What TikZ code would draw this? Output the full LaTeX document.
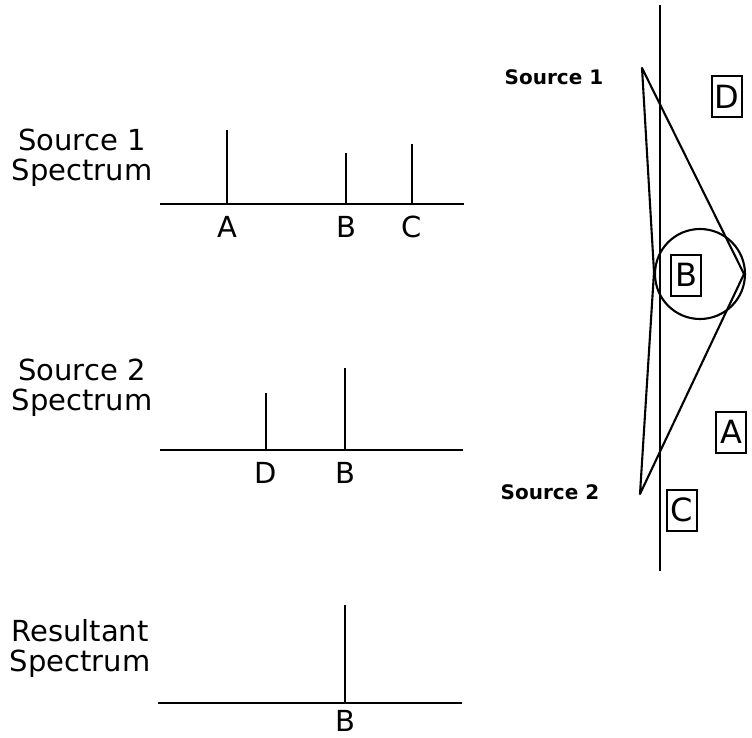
\documentclass[tikz,border=0pt]{standalone}
\usepackage{fontspec}
\setmainfont{DejaVu Sans}
\usetikzlibrary{positioning}
\tikzset{
  % plotter strokes
  axis/.style   = {line width=2.3pt, black},
  spk/.style    = {line width=2.3pt, black},
  ray/.style    = {line width=2.1pt, black},
  lbl/.style    = {font=\fontsize{29}{30}\selectfont, inner sep=0pt},
  ttl/.style    = {font=\fontsize{29}{30}\selectfont, align=center, inner sep=0pt},
  srclbl/.style = {font=\bfseries\fontsize{20}{24}\selectfont, inner sep=0pt},
  imgbox/.style = {draw, line width=2pt, font=\fontsize{32}{34}\selectfont,
                   minimum width=30pt, minimum height=41pt, inner sep=0pt},
}
\begin{document}
\begin{tikzpicture}[x=1pt,y=-1pt]
\useasboundingbox (0,0) rectangle (752,738);
% source 1 spectrum
\node[ttl] (t1) at (82,158) {Source 1\\Spectrum};
\draw[axis] (160,204) coordinate (a1l) -- (464,204) coordinate (a1r);
\foreach \n/\x/\h in {A/227/130, B/346/153, C/412/144}{
  \coordinate (p1\n) at (\x,204);
  \coordinate (q1\n) at (\x,\h);
  \draw[spk] (p1\n) -- (q1\n);
  \node[lbl, below=12pt of p1\n] (l1\n) {\n};
}
% source 2 spectrum
\node[ttl] (t2) at (82,388) {Source 2\\Spectrum};
\draw[axis] (160,450) coordinate (a2l) -- (463,450) coordinate (a2r);
\foreach \n/\x/\h in {D/266/393, B/345/368}{
  \coordinate (p2\n) at (\x,450);
  \coordinate (q2\n) at (\x,\h);
  \draw[spk] (p2\n) -- (q2\n);
  \node[lbl, below=12pt of p2\n] (l2\n) {\n};
}
% resultant
\node[ttl] (t3) at (80,648) {Resultant\\Spectrum};
\draw[axis] (158,703) coordinate (a3l) -- (462,703) coordinate (a3r);
\coordinate (p3B) at (345,703);
\coordinate (q3B) at (345,605);
\draw[spk] (p3B) -- (q3B);
\node[lbl, below=7pt of p3B] (l3B) {B};
% sources and image plane
\coordinate (vt) at (660,5);
\coordinate (vb) at (660,571);
\draw[ray] (vt) -- (vb);
\coordinate (s1) at (642,68);
\coordinate (s2) at (640,494);
\coordinate (fr) at (744,274);
\coordinate (fl) at (654,272);
\draw[ray, line join=round] (s1) -- (fr) -- (s2) -- (fl) -- cycle;
\node[circle, draw, ray, minimum size=90pt, inner sep=0pt] (ring) at (700,274) {};
\node[srclbl] (n1) at (554,77) {Source 1};
\node[srclbl] (n2) at (550,492) {Source 2};
\node[imgbox] (bD) at (727,97) {D};
\node[imgbox] (bB) at (686,275) {B};
\node[imgbox] (bA) at (731,432) {A};
\node[imgbox] (bC) at (682,510) {C};
\end{tikzpicture}
\end{document}
